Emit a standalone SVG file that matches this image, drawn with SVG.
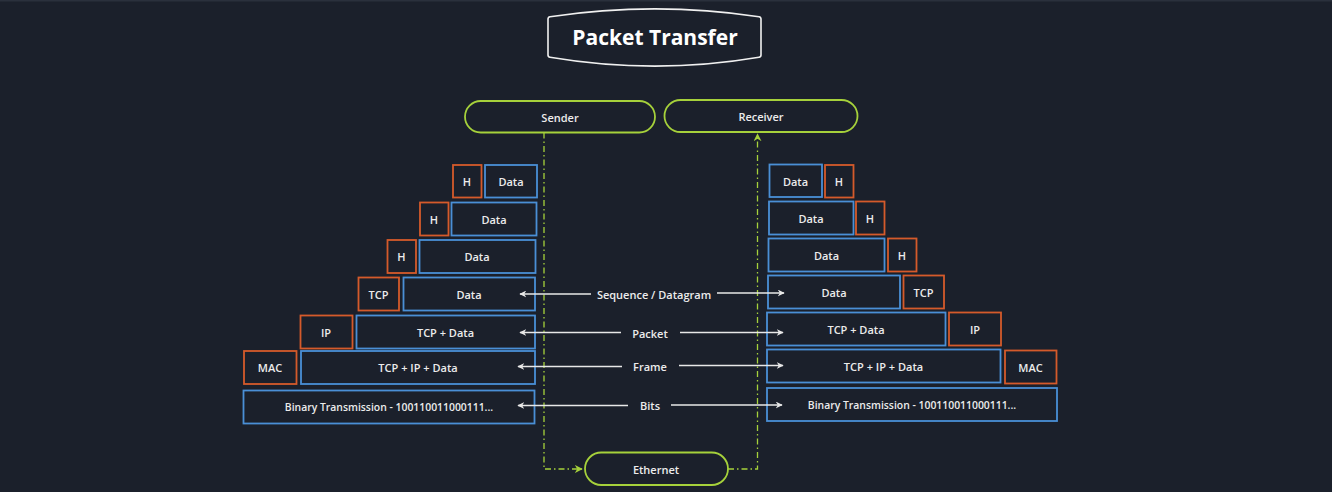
<svg xmlns="http://www.w3.org/2000/svg" width="1332" height="492" viewBox="0 0 1332 492">
<style>
.bg{fill:#1b202b}
.b{fill:none;stroke:#4a8fd6;stroke-width:1.8}
.o{fill:none;stroke:#d55a2b;stroke-width:1.8}
.pill{fill:none;stroke:#a6d13b;stroke-width:1.8}
.t{font-family:"Open Sans","DejaVu Sans",sans-serif;font-weight:600;font-size:11px;fill:#ececec;text-anchor:middle;dominant-baseline:central}
.sm{font-size:10.4px}
.title{font-family:"Open Sans","DejaVu Sans",sans-serif;font-weight:700;font-size:21px;fill:#ffffff;text-anchor:middle;dominant-baseline:central}
.dl{fill:none;stroke:#a6d13b;stroke-width:1.3;stroke-dasharray:6 3 1.5 3}
.ar{fill:none;stroke:#e8e8e8;stroke-width:1.5}
</style>
<defs>
<marker id="wa" viewBox="0 0 10 10" refX="9" refY="5" markerWidth="7" markerHeight="7" orient="auto-start-reverse" markerUnits="userSpaceOnUse">
<path d="M0,0 L10,5 L0,10 L3,5 Z" fill="#e8e8e8"/>
</marker>
<marker id="ga" viewBox="0 0 10 10" refX="9" refY="5" markerWidth="8" markerHeight="8" orient="auto" markerUnits="userSpaceOnUse">
<path d="M0,0 L10,5 L0,10 L3,5 Z" fill="#a6d13b"/>
</marker>
</defs>
<rect class="bg" x="0" y="0" width="1332" height="492"/>
<rect x="0" y="0" width="1332" height="1.5" fill="#2a303c"/>

<g id="title">
<path d="M548,19 Q548,17 550,16.7 Q655,1 759,16.7 Q761,17 761,19 L761,55 Q761,57 759,57.3 Q655,75 550,57.3 Q548,57 548,55 Z" fill="none" stroke="#f0f0f0" stroke-width="1.6"/>
<text class="title" x="655" y="36.5">Packet Transfer</text>
</g>

<g id="sender"><rect class="pill" x="465" y="101" width="190" height="31.5" rx="15.75"/><text class="t" x="560" y="117">Sender</text></g>
<g id="receiver"><rect class="pill" x="664.5" y="100" width="193" height="32" rx="16"/><text class="t" x="761" y="116">Receiver</text></g>
<g id="ethernet"><rect class="pill" x="585" y="452.5" width="143" height="32.5" rx="16.25"/><text class="t" x="656" y="469">Ethernet</text></g>

<g id="s-l7"><rect class="o" x="453" y="165" width="28.5" height="32.5"/><text class="t" x="467" y="181.5">H</text><rect class="b" x="485" y="165" width="52" height="32.5"/><text class="t" x="511" y="181.5">Data</text></g>
<g id="s-l6"><rect class="o" x="420" y="202.5" width="28.5" height="33"/><text class="t" x="434" y="219">H</text><rect class="b" x="451.5" y="202.5" width="85" height="33"/><text class="t" x="494" y="219">Data</text></g>
<g id="s-l5"><rect class="o" x="387.5" y="240" width="28.5" height="33"/><text class="t" x="401.5" y="256.5">H</text><rect class="b" x="419.5" y="240" width="116" height="33"/><text class="t" x="477" y="256.5">Data</text></g>
<g id="s-l4"><rect class="o" x="358.5" y="277.5" width="40.5" height="33"/><text class="t" x="378.5" y="294">TCP</text><rect class="b" x="403.5" y="277.5" width="131.5" height="33"/><text class="t" x="469" y="294">Data</text></g>
<g id="s-l3"><rect class="o" x="300.5" y="315.5" width="52" height="33"/><text class="t" x="326" y="332">IP</text><rect class="b" x="356.5" y="315.5" width="178.5" height="33"/><text class="t" x="445.5" y="332">TCP + Data</text></g>
<g id="s-l2"><rect class="o" x="244" y="351" width="52.5" height="33"/><text class="t" x="270" y="367.5">MAC</text><rect class="b" x="301" y="351" width="234" height="33"/><text class="t" x="418" y="367.5">TCP + IP + Data</text></g>
<g id="s-l1"><rect class="b" x="243.5" y="390.5" width="291" height="33"/><text class="t sm" x="389" y="407">Binary Transmission - 100110011000111...</text></g>

<g id="r-l7"><rect class="b" x="769.5" y="164.5" width="52.5" height="32.5"/><text class="t" x="795.5" y="181">Data</text><rect class="o" x="825" y="165" width="28.5" height="32.5"/><text class="t" x="839" y="181.5">H</text></g>
<g id="r-l6"><rect class="b" x="769" y="201.5" width="84.5" height="33"/><text class="t" x="811" y="218">Data</text><rect class="o" x="856" y="201.5" width="28.5" height="33"/><text class="t" x="870" y="218">H</text></g>
<g id="r-l5"><rect class="b" x="768.5" y="238.5" width="116" height="33"/><text class="t" x="826.5" y="255">Data</text><rect class="o" x="888" y="238.5" width="28.5" height="33"/><text class="t" x="902" y="255">H</text></g>
<g id="r-l4"><rect class="b" x="768" y="275.5" width="132" height="33"/><text class="t" x="834" y="292">Data</text><rect class="o" x="903.5" y="275.5" width="40.5" height="33"/><text class="t" x="923.5" y="292">TCP</text></g>
<g id="r-l3"><rect class="b" x="767" y="312.5" width="178.5" height="33"/><text class="t" x="856" y="329">TCP + Data</text><rect class="o" x="949" y="312.5" width="52" height="33"/><text class="t" x="975" y="329">IP</text></g>
<g id="r-l2"><rect class="b" x="767" y="349.5" width="233.5" height="33"/><text class="t" x="883.5" y="366">TCP + IP + Data</text><rect class="o" x="1005" y="350.5" width="51.5" height="33"/><text class="t" x="1030.5" y="367">MAC</text></g>
<g id="r-l1"><rect class="b" x="767" y="388" width="290" height="33"/><text class="t sm" x="912" y="404.5">Binary Transmission - 100110011000111...</text></g>

<g id="labels">
<text class="t" x="654" y="294">Sequence / Datagram</text>
<text class="t" x="650" y="333">Packet</text>
<text class="t" x="650" y="366">Frame</text>
<text class="t" x="650" y="405.5">Bits</text>
</g>

<g id="connectors">
<path class="dl" d="M544,132.5 L544,469 L582,469" marker-end="url(#ga)"/>
<path class="dl" d="M728,469 L757.5,469 L757.5,134" marker-end="url(#ga)"/>
<line class="ar" x1="591" y1="294" x2="520" y2="294" marker-end="url(#wa)"/>
<line class="ar" x1="717" y1="293" x2="784" y2="293" marker-end="url(#wa)"/>
<line class="ar" x1="621" y1="332.5" x2="520" y2="332.5" marker-end="url(#wa)"/>
<line class="ar" x1="680" y1="332.5" x2="783" y2="332.5" marker-end="url(#wa)"/>
<line class="ar" x1="622" y1="366.5" x2="518" y2="366.5" marker-end="url(#wa)"/>
<line class="ar" x1="679" y1="365.5" x2="783" y2="365.5" marker-end="url(#wa)"/>
<line class="ar" x1="628" y1="405.5" x2="518" y2="405.5" marker-end="url(#wa)"/>
<line class="ar" x1="671" y1="405" x2="782" y2="405" marker-end="url(#wa)"/>
</g>
</svg>
